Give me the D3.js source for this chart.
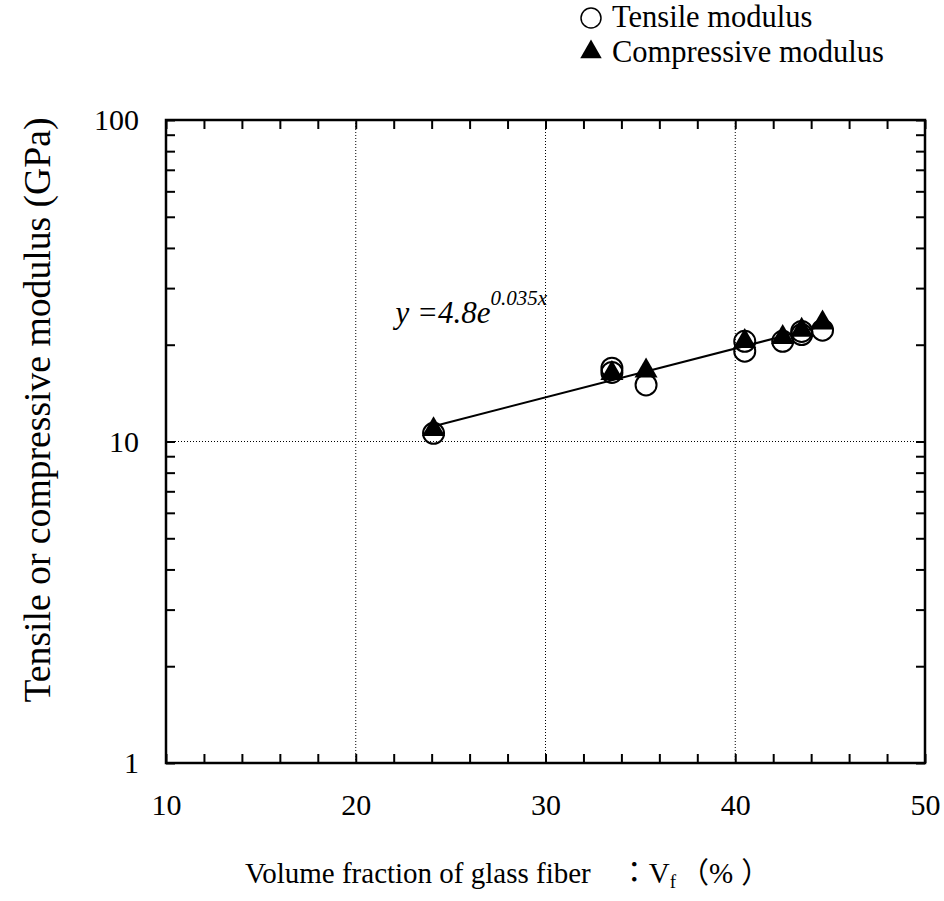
<!DOCTYPE html>
<html>
<head>
<meta charset="utf-8">
<script src="https://cdn.jsdelivr.net/npm/d3@7"></script>
<style>
  body { margin: 0; background: #fff; }
  svg text { font-family: "Liberation Serif", "Times New Roman", serif; fill: #000; }
  .axis path { display: none; }
  .axis line { stroke: #000; stroke-width: 2; }
  .axis text { font-size: 30px; }
  .grid line { stroke: #000; stroke-width: 1; stroke-dasharray: 1 2; }
</style>
</head>
<body>
<script>
// data
var volumeFraction = [24.1, 33.5, 35.3, 40.5, 42.5, 43.5, 44.6]
var tensileModulus = [10.6, 16.9, 15.0, 19.1, 20.5, 22.0, 22.2]
var tensileModulus2 = [null, 16.4, null, 20.5, null, 21.5, null]
var compressiveModulus = [10.9, 16.3, 16.6, 20.5, 21.1, 22.2, 23.4]
var xTicks = [10, 20, 30, 40, 50]
var yTicks = [1, 10, 100]
var fitA = 4.8, fitB = 0.035

var width = 944, height = 901
var margin = {top: 120, left: 166, right: 19, bottom: 138}
var chartWidth = width - margin.left - margin.right
var chartHeight = height - margin.top - margin.bottom

var svg = d3.select("body").append("svg").attr("width", width).attr("height", height)
var chartLayer = svg.append("g").attr("transform", "translate(" + [margin.left, margin.top] + ")")

var x = d3.scaleLinear().domain([10, 50]).range([0, chartWidth])
var y = d3.scaleLog().domain([1, 100]).range([chartHeight, 0])

var xMinor = d3.range(10, 51, 2)
var yMinor = []
yTicks.forEach(function(t) { if (t < 100) for (var k = 1; k <= 10; k++) yMinor.push(t * k) })
yMinor = Array.from(new Set(yMinor))

// grid
chartLayer.append("g").attr("class", "grid")
    .selectAll("line").data(xTicks.slice(1, -1)).enter().append("line")
    .attr("x1", d => x(d)).attr("x2", d => x(d)).attr("y1", 0).attr("y2", chartHeight)
chartLayer.append("g").attr("class", "grid")
    .selectAll("line").data(yTicks.slice(1, -1)).enter().append("line")
    .attr("y1", d => y(d)).attr("y2", d => y(d)).attr("x1", 0).attr("x2", chartWidth)

// axes
function xLabel(d) { return xTicks.indexOf(d) >= 0 ? d : "" }
function yLabel(d) { return yTicks.indexOf(d) >= 0 ? d : "" }

chartLayer.append("g").attr("class", "axis")
    .attr("transform", "translate(0," + chartHeight + ")")
    .call(d3.axisBottom(x).tickValues(xMinor).tickSize(-9).tickPadding(31).tickFormat(xLabel))
chartLayer.append("g").attr("class", "axis")
    .call(d3.axisTop(x).tickValues(xMinor).tickSize(-9).tickFormat(""))
chartLayer.append("g").attr("class", "axis")
    .call(d3.axisLeft(y).tickValues(yMinor).tickSize(-9).tickPadding(27).tickFormat(yLabel))
chartLayer.append("g").attr("class", "axis")
    .attr("transform", "translate(" + chartWidth + ",0)")
    .call(d3.axisRight(y).tickValues(yMinor).tickSize(-9).tickFormat(""))

chartLayer.append("rect")
    .attr("width", chartWidth).attr("height", chartHeight)
    .attr("fill", "none").attr("stroke", "#000").attr("stroke-width", 2.5)

// fit line
var xs = d3.extent(volumeFraction)
chartLayer.append("path")
    .datum(xs)
    .attr("fill", "none").attr("stroke", "#000").attr("stroke-width", 2)
    .attr("d", d3.line().x(d => x(d)).y(d => y(fitA * Math.exp(fitB * d))))

// markers
var tensile = volumeFraction.map((v, i) => ({x: v, y: tensileModulus[i]}))
    .concat(volumeFraction.map((v, i) => ({x: v, y: tensileModulus2[i]})).filter(d => d.y != null))
var compressive = volumeFraction.map((v, i) => ({x: v, y: compressiveModulus[i]}))

chartLayer.selectAll(".tens").data(tensile).enter().append("circle")
    .attr("class", "tens")
    .attr("cx", d => x(d.x)).attr("cy", d => y(d.y)).attr("r", 10.5)
    .attr("fill", "none").attr("stroke", "#000").attr("stroke-width", 2)

var tri = d3.symbol().type(d3.symbolTriangle).size(230)
chartLayer.selectAll(".comp").data(compressive).enter().append("path")
    .attr("class", "comp")
    .attr("transform", d => "translate(" + [x(d.x), y(d.y)] + ")")
    .attr("d", tri).attr("fill", "#000")

// equation
var eq = chartLayer.append("text")
    .attr("x", x(22.1)).attr("y", 203)
    .attr("font-size", 31).attr("font-style", "italic")
eq.append("tspan").text("y =4.8e")
eq.append("tspan").attr("font-size", 21).attr("dy", -18).text("0.035x")

// axis titles
svg.append("text")
    .attr("transform", "translate(50,410) rotate(-90)")
    .attr("text-anchor", "middle").attr("font-size", 37)
    .attr("textLength", 585).attr("lengthAdjust", "spacingAndGlyphs")
    .text("Tensile or compressive modulus (GPa)")

var xt = svg.append("text")
    .attr("x", 245).attr("y", 883)
    .attr("font-size", 29)
xt.append("tspan").text("Volume fraction of glass fiber\u00a0\u00a0\u00a0\u00a0")
xt.append("tspan").style("font-family", "'Noto Sans CJK JP'").text("：")
xt.append("tspan").text("V")
xt.append("tspan").attr("font-size", 19).attr("dy", 5).text("f")
xt.append("tspan").attr("dy", -5).attr("dx", 4).style("font-family", "'Noto Sans CJK JP'").text("（")
xt.append("tspan").text("%")
xt.append("tspan").attr("dx", 8).style("font-family", "'Noto Sans CJK JP'").text("）")

// legend
var legend = svg.append("g")
legend.append("circle").attr("cx", 591).attr("cy", 18).attr("r", 10)
    .attr("fill", "none").attr("stroke", "#000").attr("stroke-width", 1.5)
legend.append("path").attr("transform", "translate(591,52)")
    .attr("d", d3.symbol().type(d3.symbolTriangle).size(200)).attr("fill", "#000")
legend.append("text").attr("x", 612).attr("y", 27).attr("font-size", 30.5).text("Tensile modulus")
legend.append("text").attr("x", 612).attr("y", 62).attr("font-size", 30.5).text("Compressive modulus")
</script>
</body>
</html>
